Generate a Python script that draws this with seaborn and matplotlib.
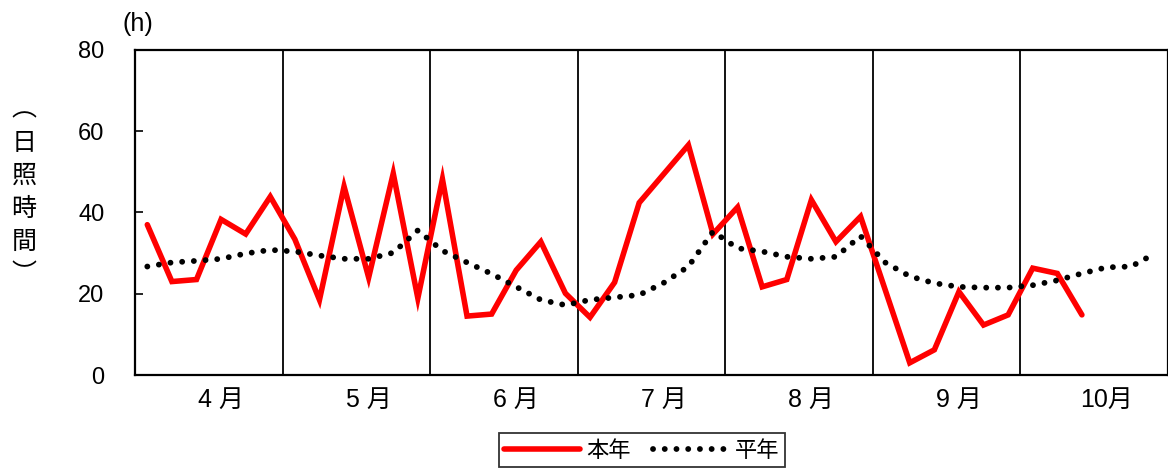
import matplotlib
matplotlib.use("Agg")
import matplotlib.pyplot as plt
import seaborn as sns
import pandas as pd
import numpy as np

# Half-month-ish (5-day) periods, 6 per month, April to October
months = ["4 月", "5 月", "6 月", "7 月", "8 月", "9 月", "10月"]
periods_per_month = 6

# 本年: sunshine hours per period (data up to October, 3rd period)
this_year = [37.0, 23.0, 23.5, 38.3, 34.7, 43.9,
             33.4, 18.5, 46.4, 24.0, 49.6, 18.9,
             48.2, 14.5, 15.0, 25.8, 32.8, 20.1,
             14.2, 22.8, 42.4, 49.5, 56.6, 34.7,
             41.3, 21.7, 23.5, 43.1, 32.8, 39.0,
             21.0, 3.0, 6.2, 20.5, 12.3, 14.8,
             26.3, 25.0, 14.8]

# 平年: normal sunshine hours per period
normal_year = [26.7, 27.7, 28.1, 28.6, 29.9, 30.8,
               30.4, 29.4, 28.6, 28.6, 30.1, 35.6,
               30.6, 27.7, 24.9, 21.7, 18.5, 17.2,
               18.5, 19.1, 19.7, 22.7, 26.7, 35.3,
               31.2, 30.4, 29.1, 28.6, 29.1, 34.2,
               27.7, 24.3, 22.6, 21.7, 21.5, 21.5,
               22.1, 23.3, 25.0, 26.5, 26.7, 30.0]

y_ticks = [0, 20, 40, 60, 80]

sns.set_theme(style="white")
plt.rcParams["font.family"] = ["Liberation Sans", "Noto Sans CJK JP", "DejaVu Sans"]
plt.rcParams["text.color"] = "black"
plt.rcParams["xtick.color"] = "black"
plt.rcParams["ytick.color"] = "black"
plt.rcParams["xtick.labelcolor"] = "black"
plt.rcParams["ytick.labelcolor"] = "black"
cjk = ["Noto Sans CJK JP", "DejaVu Sans"]
mixed = ["Liberation Sans", "Noto Sans CJK JP", "DejaVu Sans"]

df_this = pd.DataFrame({"period": np.arange(len(this_year)), "hours": this_year})
df_norm = pd.DataFrame({"period": np.arange(len(normal_year)), "hours": normal_year})

fig = plt.figure(figsize=(11.68, 4.69), dpi=100)
ax = fig.add_axes([135 / 1168, 94 / 469, 1033 / 1168, 325 / 469])

sns.lineplot(data=df_this, x="period", y="hours", ax=ax, color="#ff0000",
             linewidth=4.0, label="本年", solid_joinstyle="miter")
sns.lineplot(data=df_norm, x="period", y="hours", ax=ax, color="black",
             linewidth=4.2, linestyle=(0, (0.01, 2.0)), dash_capstyle="round",
             label="平年")

n_total = periods_per_month * len(months)
ax.set_xlim(-0.5, n_total - 0.5)
ax.set_ylim(0, 80)

# month separators
for k in range(1, len(months)):
    ax.axvline(k * periods_per_month - 0.5, color="black", linewidth=1.3, zorder=0)

ax.set_yticks(y_ticks)
ax.set_yticklabels([str(v) for v in y_ticks], fontsize=17)
ax.tick_params(axis="y", direction="in", length=6, width=1.2, color="black",
               pad=22, left=True)
ax.set_xticks([k * periods_per_month + 3 for k in range(len(months))])
ax.set_xticklabels(months, fontsize=18, family=mixed)
ax.tick_params(axis="x", length=0, pad=9)

for s in ax.spines.values():
    s.set_color("black")
    s.set_linewidth(1.6)
    s.set_visible(True)

ax.set_xlabel("")
ax.set_ylabel("")

fig.text(138 / 1168, 1 - 24 / 469, "(h)", fontsize=18, ha="center", va="center",
         family=["Liberation Sans"])
fig.text(24 / 1168, 1 - 192 / 469, "︵\n日\n照\n時\n間\n︶", fontsize=18,
         ha="center", va="center", family=cjk, linespacing=1.35)

ax.legend_.remove()
handles, labels = ax.get_legend_handles_labels()
leg = fig.legend(handles, labels, loc="center", bbox_to_anchor=(642 / 1168, 1 - 450 / 469),
                 ncol=2, frameon=True, fancybox=False, prop={"family": cjk, "size": 16},
                 handlelength=3.4, handletextpad=0.3, columnspacing=1.0,
                 borderpad=0.25, borderaxespad=0)
leg.get_frame().set_edgecolor("black")
leg.get_frame().set_linewidth(1.3)

fig.savefig("out.png", dpi=100)
